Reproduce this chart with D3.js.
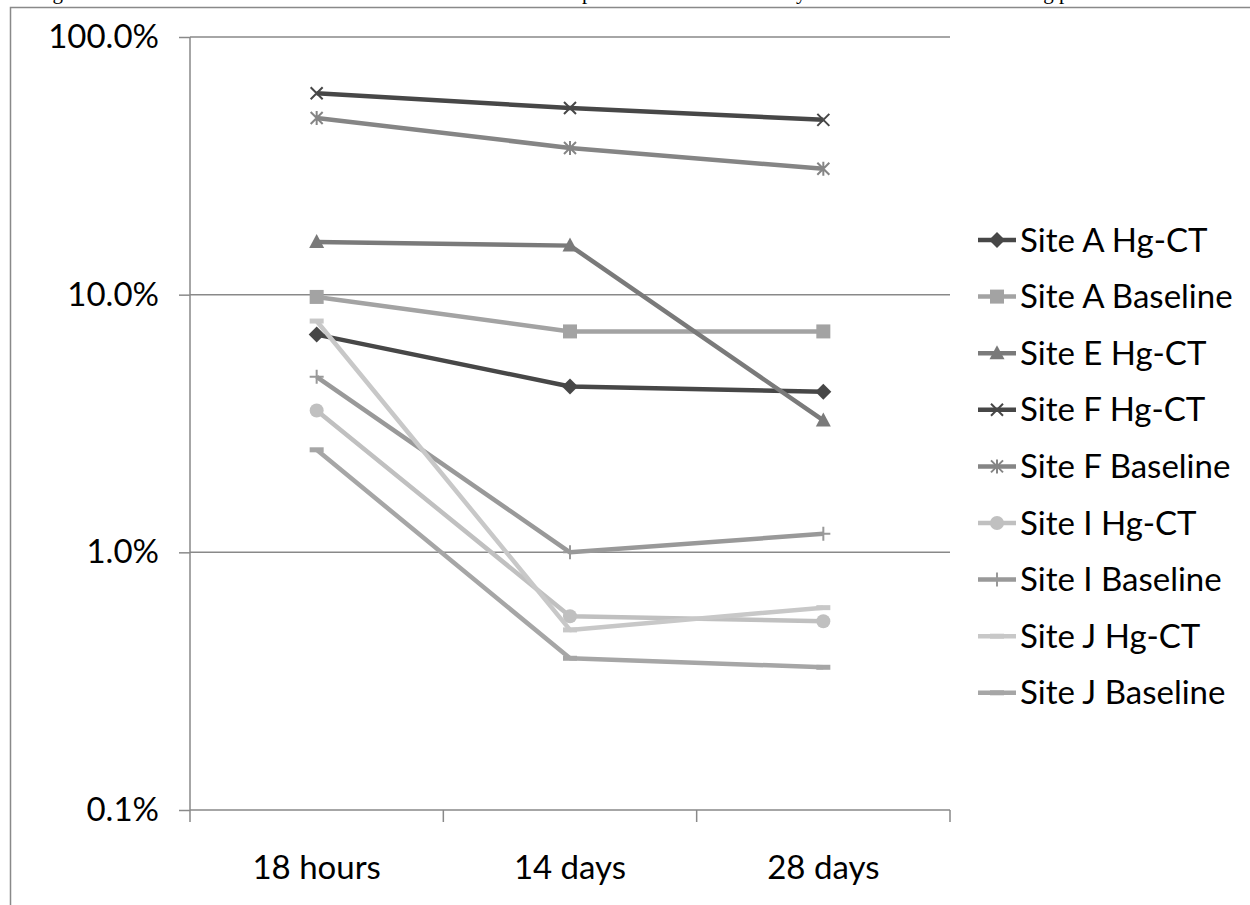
<!DOCTYPE html>
<html>
<head>
<meta charset="utf-8">
<script src="https://cdn.jsdelivr.net/npm/d3@7"></script>
<style>
  html, body { margin: 0; padding: 0; background: #fff; }
  svg { display: block; }
</style>
</head>
<body>
<svg id="chart" width="1250" height="905"></svg>
<script>
// Sampling times along the x axis
const categories = ["18 hours", "14 days", "28 days"];

// Percent values per series, one per sampling time
const siteAHgCT     = [7.0, 4.4, 4.2];
const siteABaseline = [9.8, 7.2, 7.2];
const siteEHgCT     = [16.0, 15.5, 3.25];
const siteFHgCT     = [60.5, 53.0, 47.7];
const siteFBaseline = [48.5, 37.1, 30.8];
const siteIHgCT     = [3.55, 0.565, 0.54];
const siteIBaseline = [4.8, 1.0, 1.18];
const siteJHgCT     = [7.9, 0.50, 0.61];
const siteJBaseline = [2.5, 0.388, 0.358];

const seriesNames = [
  "Site A Hg-CT", "Site A Baseline", "Site E Hg-CT", "Site F Hg-CT",
  "Site F Baseline", "Site I Hg-CT", "Site I Baseline", "Site J Hg-CT", "Site J Baseline"
];
const seriesValues = [
  siteAHgCT, siteABaseline, siteEHgCT, siteFHgCT,
  siteFBaseline, siteIHgCT, siteIBaseline, siteJHgCT, siteJBaseline
];
const yTicks = [0.1, 1, 10, 100];

// Styling per series
const styles = [
  { color: "#474747", marker: "diamond" },
  { color: "#a3a3a3", marker: "square" },
  { color: "#7a7a7a", marker: "triangle" },
  { color: "#474747", marker: "x" },
  { color: "#858585", marker: "star" },
  { color: "#c0c0c0", marker: "circle" },
  { color: "#999999", marker: "plus" },
  { color: "#c8c8c8", marker: "dash" },
  { color: "#a6a6a6", marker: "dash" }
];

const series = seriesNames.map((name, i) => ({
  name, values: seriesValues[i], ...styles[i]
}));

const svg = d3.select("#chart");
const font = "Lato, 'Open Sans', sans-serif";
const fontSize = 33;

// Caption line above the chart frame (runs off the top of the page)
svg.append("text")
  .attr("x", 35).attr("y", -1)
  .attr("font-family", "'Liberation Serif', 'Times New Roman', serif")
  .attr("font-size", 21)
  .attr("fill", "#000")
  .text("Figure 5. Leachate concentrations from each of the columns as a percent of the total sum by time since start of the testing period");

// Chart frame
svg.append("rect")
  .attr("x", 10.5).attr("y", 7.5)
  .attr("width", 1260).attr("height", 920)
  .attr("fill", "#fff")
  .attr("stroke", "#898989").attr("stroke-width", 1.5);

const plot = { left: 190, right: 950, top: 37, bottom: 810 };

const x = d3.scaleBand()
  .domain(categories)
  .range([plot.left, plot.right]);

const y = d3.scaleLog()
  .domain([0.1, 100])
  .range([plot.bottom, plot.top]);

// Horizontal gridlines
svg.append("g")
  .selectAll("line")
  .data(yTicks.filter(t => t > 0.1))
  .join("line")
  .attr("x1", plot.left).attr("x2", plot.right)
  .attr("y1", d => y(d)).attr("y2", d => y(d))
  .attr("stroke", "#898989").attr("stroke-width", 1.5);

// Y axis
const yAxis = svg.append("g")
  .attr("transform", `translate(${plot.left},0)`)
  .call(d3.axisLeft(y).tickValues(yTicks).tickSize(11).tickPadding(20)
    .tickFormat(d => d3.format(".1f")(d) + "%"));
yAxis.selectAll("path, line").attr("stroke", "#898989").attr("stroke-width", 1.5);
yAxis.select(".domain").attr("d", `M0,${plot.top}V${plot.bottom}`);
yAxis.selectAll("text")
  .attr("font-family", font).attr("font-size", fontSize).attr("fill", "#000");

// X axis with tick marks at category boundaries
const xAxisG = svg.append("g")
  .attr("transform", `translate(0,${plot.bottom})`);
xAxisG.append("line")
  .attr("x1", plot.left).attr("x2", plot.right)
  .attr("stroke", "#898989").attr("stroke-width", 1.5);
const bounds = categories.map(c => x(c)).concat([x(categories[categories.length - 1]) + x.bandwidth()]);
xAxisG.selectAll("line.tick")
  .data(bounds)
  .join("line")
  .attr("class", "tick")
  .attr("x1", d => d).attr("x2", d => d)
  .attr("y1", 0).attr("y2", 12)
  .attr("stroke", "#898989").attr("stroke-width", 1.5);
xAxisG.selectAll("text")
  .data(categories)
  .join("text")
  .attr("x", d => x(d) + x.bandwidth() / 2)
  .attr("y", 69)
  .attr("text-anchor", "middle")
  .attr("font-family", font).attr("font-size", fontSize).attr("fill", "#000")
  .text(d => d);

// Marker drawing
function drawMarker(g, type, color) {
  switch (type) {
    case "diamond":
      g.append("path").attr("d", "M0,-8L8,0L0,8L-8,0Z").attr("fill", color);
      break;
    case "square":
      g.append("rect").attr("x", -7).attr("y", -7).attr("width", 14).attr("height", 14).attr("fill", color);
      break;
    case "triangle":
      g.append("path").attr("d", "M0,-8L7.5,6L-7.5,6Z").attr("fill", color);
      break;
    case "x":
      g.append("path").attr("d", "M-6,-6L6,6M-6,6L6,-6").attr("stroke", color).attr("stroke-width", 2).attr("fill", "none");
      break;
    case "star":
      g.append("path").attr("d", "M-6,-6L6,6M-6,6L6,-6M0,-7V7").attr("stroke", color).attr("stroke-width", 2).attr("fill", "none");
      break;
    case "circle":
      g.append("circle").attr("r", 7).attr("fill", color);
      break;
    case "plus":
      g.append("path").attr("d", "M-7,0H7M0,-7V7").attr("stroke", color).attr("stroke-width", 2).attr("fill", "none");
      break;
    case "dash":
      g.append("rect").attr("x", -7).attr("y", -2.5).attr("width", 14).attr("height", 5).attr("fill", color);
      break;
  }
}

const line = d3.line()
  .x((d, i) => x(categories[i]) + x.bandwidth() / 2)
  .y(d => y(d));

// Series lines and markers
const sg = svg.append("g").selectAll("g.series")
  .data(series)
  .join("g").attr("class", "series");

sg.append("path")
  .attr("d", d => line(d.values))
  .attr("fill", "none")
  .attr("stroke", d => d.color)
  .attr("stroke-width", 4.5)
  .attr("stroke-linejoin", "round");

sg.each(function(s) {
  const g = d3.select(this);
  s.values.forEach((v, i) => {
    const m = g.append("g")
      .attr("transform", `translate(${x(categories[i]) + x.bandwidth() / 2},${y(v)})`);
    drawMarker(m, s.marker, s.color);
  });
});

// Legend
const legend = svg.append("g").attr("transform", "translate(978,240)");
const lg = legend.selectAll("g")
  .data(series)
  .join("g")
  .attr("transform", (d, i) => `translate(0,${i * 56.6})`);
lg.append("line")
  .attr("x1", 0).attr("x2", 38)
  .attr("stroke", d => d.color).attr("stroke-width", 4.5);
lg.each(function(s) {
  const m = d3.select(this).append("g").attr("transform", "translate(19,0)");
  drawMarker(m, s.marker, s.color);
});
lg.append("text")
  .attr("x", 42).attr("y", 0)
  .attr("dy", "0.35em")
  .attr("font-family", font).attr("font-size", fontSize).attr("fill", "#000")
  .text(d => d.name);
</script>
</body>
</html>
